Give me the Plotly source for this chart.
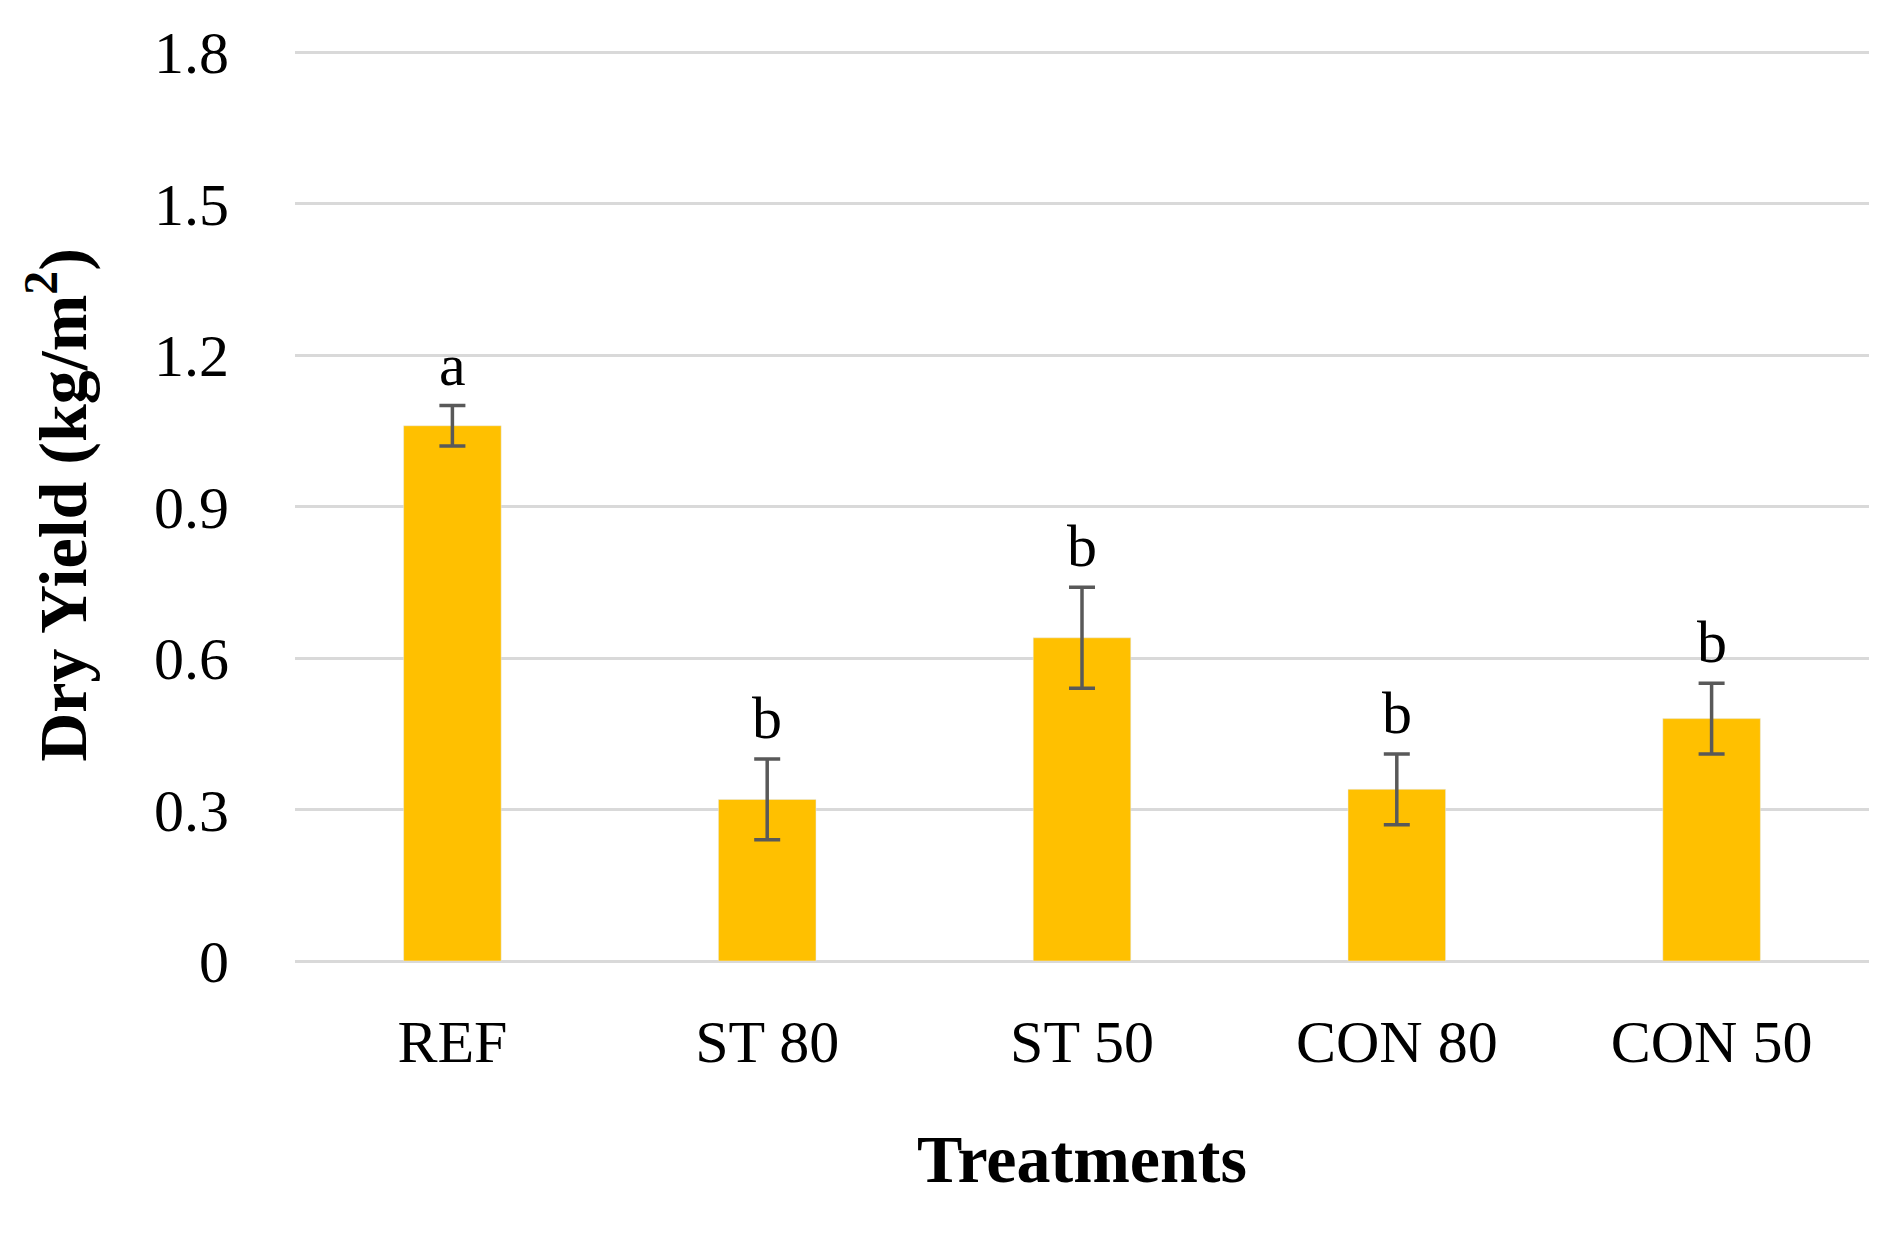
import plotly.graph_objects as go

categories = ["REF", "ST 80", "ST 50", "CON 80", "CON 50"]
values = [1.06, 0.32, 0.64, 0.34, 0.48]
errors = [0.04, 0.08, 0.10, 0.07, 0.07]
letters = ["a", "b", "b", "b", "b"]
yticks = [0, 0.3, 0.6, 0.9, 1.2, 1.5, 1.8]
yticklabels = ["0", "0.3", "0.6", "0.9", "1.2", "1.5", "1.8"]

font = "Liberation Serif"
fig = go.Figure(go.Bar(
    x=categories, y=values, width=0.31, marker_color="#FFC000",
    error_y=dict(type="data", array=errors, color="#595959", thickness=3.5, width=13),
))
for c, v, e, t in zip(categories, values, errors, letters):
    fig.add_annotation(x=c, y=v + e, text=t, showarrow=False, yanchor="bottom", yshift=6,
                       font=dict(family=font, size=60, color="black"))
fig.update_layout(
    width=1881, height=1235, paper_bgcolor="white", plot_bgcolor="white",
    margin=dict(l=287, r=20, t=38, b=282), showlegend=False,
    xaxis=dict(title=dict(text="<b>Treatments</b>", font=dict(family=font, size=68, color="black"), standoff=60),
               tickfont=dict(family=font, size=60, color="black"), ticks="", showline=False,
               ticklabelstandoff=40),
    yaxis=dict(title=dict(text="<b>Dry Yield (kg/m<sup>2</sup>)</b>", font=dict(family=font, size=68, color="black"), standoff=45),
               range=[0, 1.806], tickvals=yticks, ticktext=yticklabels,
               tickfont=dict(family=font, size=60, color="black"),
               gridcolor="#D9D9D9", gridwidth=3, zeroline=True, zerolinecolor="#D9D9D9", zerolinewidth=3,
               ticklabelstandoff=65),
)
fig.write_html("out.html")
